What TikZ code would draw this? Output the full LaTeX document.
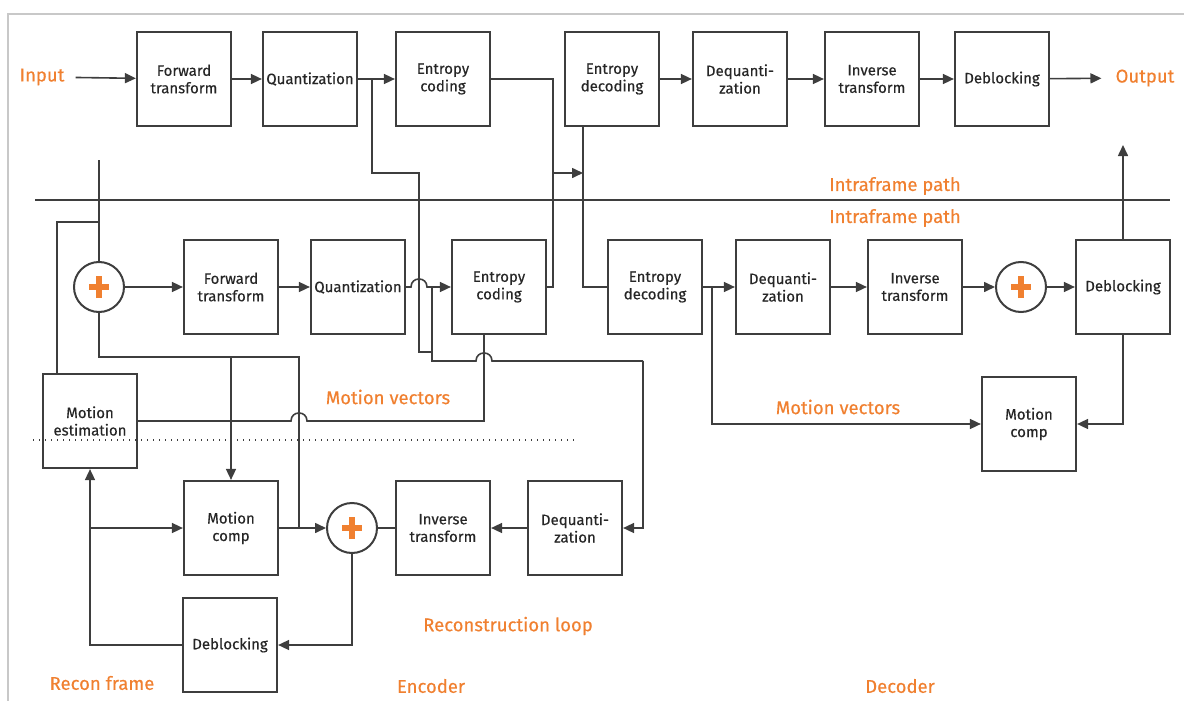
\documentclass[tikz,border=0pt]{standalone}
\usepackage{fontspec}
\setmainfont{Fira Sans}
\newfontfamily\unitfont{Fira Sans}[FakeBold=0.35]
\usetikzlibrary{arrows.meta}
\definecolor{ink}{RGB}{62,62,62}
\definecolor{lblorange}{RGB}{240,128,48}
\definecolor{framegray}{RGB}{200,200,200}

\def\blist{{(184,79)/ft1/Forward\\transform}, {(310,79)/q1/Quantization}, {(443,79)/ec1/Entropy\\coding}, {(612,79)/ed1/Entropy\\decoding}, {(740,79)/dq1/Dequanti-\\zation}, {(872,79)/it1/Inverse\\transform}, {(1002,79)/db1/Deblocking}, {(231,287)/ft2/Forward\\transform}, {(358,287)/q2/Quantization}, {(499,287)/ec2/Entropy\\coding}, {(655,287)/ed2/Entropy\\decoding}, {(783,287)/dq2/Dequanti-\\zation}, {(915,287)/it2/Inverse\\transform}, {(1123,287)/db2/Deblocking}, {(90,421)/me/Motion\\estimation}, {(231,528)/mc1/Motion\\comp}, {(443,528)/it3/Inverse\\transform}, {(575,528)/dq3/Dequanti-\\zation}, {(230,645)/db3/Deblocking}, {(1029,424)/mc2/Motion\\comp}}
\def\llist{{(42,77)/inp/Input}, {(1145,78)/outp/Output}, {(895,186)/ip1/Intraframe path}, {(895,218)/ip2/Intraframe path}, {(388,397)/mv1/Motion vectors}, {(838,407)/mv2/Motion vectors}, {(508,626)/rl/Reconstruction loop}, {(102,683)/rf/Recon frame}, {(431,686)/enc/Encoder}, {(900,686)/dec/Decoder}}

\tikzstyle{unit} = [draw=ink, line width=2.2pt, minimum width=94pt, minimum height=94pt, align=center, inner sep=1pt, text=black!85, font=\unitfont\fontsize{15}{17.5}\selectfont]
\tikzstyle{adder} = [circle, draw=ink, line width=2pt, minimum size=50pt, inner sep=0pt]
\tikzstyle{plusbar} = [draw=lblorange, line width=6.5pt]
\tikzstyle{lbl} = [text=lblorange, inner sep=0pt, font=\unitfont\fontsize{18.5}{22}\selectfont]
\tikzstyle{wire} = [draw=ink, line width=1.6pt]
\tikzstyle{flow} = [wire, -{Triangle[length=11pt,width=10pt]}]
\tikzstyle{dotline} = [draw=ink, line width=1.4pt, dash pattern=on 1.4pt off 4.6pt]

\begin{document}
\begin{tikzpicture}[x=1pt,y=-1pt]
  \useasboundingbox (0,0) rectangle (1184,701);
  \draw[framegray, line width=1.5pt] (8,701) -- (8,14) -- (1184,14);

  \foreach \pos/\name/\txt in \blist {
    \node[unit] (\name) at \pos {\txt};
  }
  \foreach \pos/\name in {{(99,287)/add1}, {(1021,287)/add2}, {(352,528)/add3}} {
    \node[adder] (\name) at \pos {};
    \path[plusbar] ([xshift=-10pt]\name.center) -- ([xshift=10pt]\name.center);
    \path[plusbar] ([yshift=-11pt]\name.center) -- ([yshift=11pt]\name.center);
  }
  \foreach \pos/\name/\txt in \llist {
    \node[lbl] (\name) at \pos {\txt};
  }

  % taps and bends
  \coordinate (tq) at (372,79);
  \coordinate (bs) at (553,173);
  \coordinate (dv) at (583,173);
  \coordinate (vin) at (99,160);
  \coordinate (mt) at (57,222);
  \coordinate (pb) at (299,357);
  \coordinate (tq2) at (432,287);
  \coordinate (mv) at (484,421);
  \coordinate (dq) at (643,361);
  \coordinate (mvd) at (712,424);
  \coordinate (dout) at (1123,145);
  \coordinate (l1) at (35,200);
  \coordinate (l2) at (1170,200);
  \coordinate (d1) at (33,440);
  \coordinate (d2) at (578,440);

  \path[wire] (l1) -- (l2);
  \path[dotline] (d1) -- (d2);

  \path[flow, shorten <=11pt] (inp) -- (ft1);
  \path[flow, shorten >=14pt] (db1) -- (outp);
  \foreach \source/\sink in {ft1/q1, q1/ec1, ed1/dq1, dq1/it1, it1/db1, add1/ft2, ft2/q2, ed2/dq2, dq2/it2, it2/add2, add2/db2, dq3/it3, mc1/add3} {
    \path[flow] (\source) -- (\sink);
  }
  \path[wire] (it3) -- (add3);

  % bitstream to the decoders
  \path[wire] (tq) |- (419,173) |- (432,352);
  \path[flow] (q2) -- (411,287) .. controls (411,276.3) and (427,276.3) .. (427,287) -- (ec2);
  \path[wire] (tq2) |- (476,361) .. controls (476,350.3) and (492,350.3) .. (492,361) -- (dq);
  \path[flow] (dq) |- (dq3);
  \path[wire] (ec1) -| (bs) -- (bs |- ec2) -- (ec2);
  \path[flow] (bs) -- (dv);
  \path[wire] (dv |- ed1.south) |- (ed2);

  % encoder loop
  \path[wire] (vin) -- (add1);
  \path[wire] (mt |- me.north) -- (mt) -- (mt -| vin);
  \path[wire] (add1) |- (pb) -- (pb |- add3);
  \path[flow] (mc1 |- pb) -- (mc1);
  \path[wire] (me) -- (291,421) .. controls (291,410.3) and (307,410.3) .. (307,421) -- (mv) -- (mv |- ec2.south);
  \path[flow] (add3) |- (db3);
  \path[flow] (db3) -| (me);
  \path[flow] (me.south |- mc1) -- (mc1);

  % decoder loop
  \path[flow] (db2) -- (dout);
  \path[flow] (mvd |- ed2) |- (mc2);
  \path[flow] (db2) |- (mc2);
\end{tikzpicture}
\end{document}
